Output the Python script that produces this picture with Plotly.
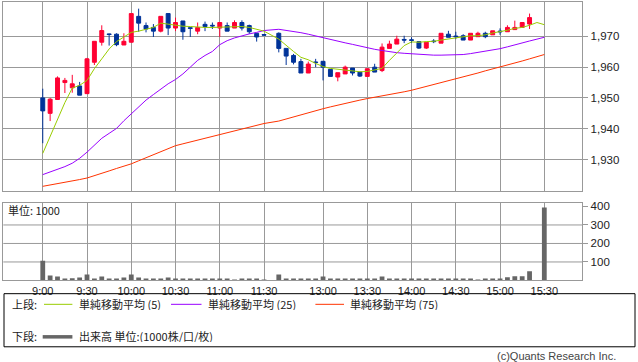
import plotly.graph_objects as go

# ---------------- data ----------------
morning_times = [f"{9 + (i * 5) // 60}:{(i * 5) % 60:02d}" for i in range(31)]          # 9:00 .. 11:30
afternoon_times = [f"{12 + (30 + i * 5) // 60}:{(30 + i * 5) % 60:02d}" for i in range(37)]  # 12:30 .. 15:30

candle_times = morning_times + afternoon_times[:35]   # 9:00-11:30, 12:30-15:20

opens = [1950, 1945, 1949.5, 1955, 1953.3, 1953.9, 1951.4, 1961.6, 1968.1, 1970.8,
         1970.7, 1967.2, 1968.1, 1976.5, 1973.5, 1972.9, 1971.7, 1977.4, 1972.7, 1975,
         1972.8, 1971.7, 1973.9, 1973.6, 1972.7, 1973.5, 1972.7, 1974.5, 1973.5, 1971,
         1970.6,
         1971, 1966.1, 1963.8, 1961.8, 1958.1, 1961.7, 1961.9, 1959.3, 1956.8, 1957.8,
         1959.7, 1958.4, 1957, 1960, 1958.9, 1966.1, 1967.5, 1969, 1968.9, 1968.3,
         1966.2, 1968.5, 1967.8, 1970.7, 1970.1, 1970.2, 1968.8, 1969.9, 1971, 1970.5,
         1971.7, 1971.5, 1972.2, 1972.9, 1974]
highs = [1953, 1950, 1957, 1956.5, 1957.5, 1955.2, 1963, 1968.4, 1973.6, 1970.9,
         1971, 1971, 1977.4, 1979, 1974.5, 1974, 1976.5, 1977.4, 1976.1, 1975,
         1972.9, 1974.5, 1974.8, 1974.5, 1974.5, 1974.5, 1975.2, 1975.2, 1973.8, 1971,
         1970.6,
         1971.3, 1966.1, 1964.3, 1962.7, 1961.8, 1962.7, 1961.9, 1959.3, 1958.2, 1960.5,
         1959.7, 1958.4, 1959.5, 1961.1, 1967.7, 1968.6, 1970.2, 1970.2, 1969.7, 1968.3,
         1968.1, 1969.1, 1971, 1971.8, 1971.5, 1970.7, 1971, 1971.5, 1971.5, 1971.8,
         1972.6, 1973.6, 1975.1, 1974.5, 1977.4]
lows = [1935.3, 1942.5, 1949.5, 1951.6, 1951.7, 1950.9, 1951.4, 1960.7, 1967, 1967,
        1966.8, 1967.2, 1968, 1971.5, 1971.3, 1969.8, 1971.3, 1970.4, 1971.7, 1968.9,
        1969.8, 1970.7, 1971.7, 1972.4, 1969.8, 1971.7, 1972.7, 1971.9, 1970.8, 1968.3,
        1970.4,
        1964.8, 1960.7, 1960.9, 1958.1, 1958.1, 1960, 1955.7, 1957, 1955.4, 1957.8,
        1957.3, 1956.8, 1957, 1958.4, 1958.4, 1966.1, 1967.5, 1967.8, 1967.8, 1965.9,
        1965.9, 1967.8, 1967.8, 1969.7, 1969.1, 1968.8, 1968.8, 1969.9, 1969.4, 1970.5,
        1970.5, 1971.5, 1972.2, 1972.9, 1972.4]
closes = [1945.8, 1949.6, 1956.5, 1955.7, 1954.6, 1950.9, 1962.7, 1968.4, 1971.9, 1970.6,
          1967.3, 1968.4, 1977.4, 1974.3, 1972.4, 1971.7, 1976.5, 1972.7, 1974.5, 1971.5,
          1972.6, 1972.9, 1973.2, 1973.4, 1974.5, 1971.7, 1974.5, 1972.7, 1971.5, 1969.8,
          1970.4,
          1966.1, 1963.6, 1961.6, 1958.1, 1961, 1961.5, 1960, 1957, 1958.2, 1960,
          1958.1, 1957.1, 1959.5, 1958.4, 1966.5, 1967.5, 1969.1, 1968.8, 1968.7, 1966.2,
          1968.1, 1968.3, 1971, 1969.7, 1969.9, 1968.8, 1971, 1971, 1969.9, 1971.8,
          1971.5, 1972.9, 1972.9, 1974.5, 1976.1]

ma_times = morning_times + afternoon_times       # 9:00-11:30, 12:30-15:30
ma5 = [1932, 1937.5, 1943, 1948.5, 1953.2, 1954.1, 1955.7, 1959.5, 1962.7, 1965.9,
       1968.3, 1969.9, 1971.3, 1971.7, 1972.2, 1972.9, 1974.3, 1973.9, 1973.5, 1973.3,
       1973.2, 1973, 1972.9, 1972.9, 1973, 1973.1, 1973.2, 1973.2, 1972.9, 1972.4,
       1971.7,
       1969.1, 1967, 1965.1, 1963.2, 1962.4, 1961.2, 1960.2, 1959.6, 1959.3, 1959.2,
       1958.8, 1958.5, 1958.6, 1959, 1959.6, 1962.2, 1964.6, 1967, 1968.2, 1968.1,
       1968.3, 1968.4, 1968.8, 1969.1, 1969.6, 1969.9, 1970.2, 1970.2, 1970.5, 1971.1,
       1971.5, 1972, 1972.6, 1972.9, 1973.6, 1974.5, 1973.8]
ma25 = [1925.1, 1925.9, 1926.7, 1927.7, 1928.8, 1930.4, 1932.4, 1934.7, 1936.9, 1938.5,
        1940.1, 1942.6, 1944.9, 1947.1, 1949.3, 1951.1, 1952.8, 1954.6, 1956, 1957.8,
        1960, 1962.2, 1963.8, 1965.1, 1967.3, 1968.6, 1969.5, 1970.2, 1970.8, 1971.3,
        1971.9,
        1972.3, 1972.0, 1971.6, 1971.2, 1970.7, 1970.1, 1969.6, 1969.0, 1968.4, 1967.9,
        1967.4, 1966.8, 1966.3, 1965.8, 1965.4, 1965.0, 1964.7, 1964.5, 1964.3, 1964.1,
        1963.9, 1963.9, 1963.9, 1963.9, 1963.9, 1964.1, 1964.4, 1964.8, 1965.1, 1965.5,
        1966, 1966.6, 1967.3, 1967.9, 1968.5, 1969.1, 1969.7]
ma75 = [1921.3, 1921.7, 1922.1, 1922.6, 1923.0, 1923.5, 1924.0, 1924.7, 1925.5, 1926.3,
        1927.1, 1927.8, 1928.6, 1929.6, 1930.6, 1931.6, 1932.6, 1933.5, 1934.5, 1935.1,
        1935.7, 1936.3, 1936.9, 1937.6, 1938.2, 1938.8, 1939.4, 1940.0, 1940.6, 1941.1,
        1941.7,
        1942.5, 1943.2, 1943.9, 1944.6, 1945.3, 1945.9, 1946.5, 1947.1, 1947.7, 1948.2,
        1948.8, 1949.3, 1949.8, 1950.2, 1950.7, 1951.1, 1951.6, 1952.0, 1952.5, 1953.1,
        1953.7, 1954.3, 1954.9, 1955.6, 1956.2, 1956.8, 1957.5, 1958.1, 1958.8, 1959.4,
        1960.0, 1960.7, 1961.4, 1962.0, 1962.7, 1963.4, 1964.1]

volume_times = candle_times + ["15:30"]
volumes = [107, 27, 21, 11, 12, 16, 32, 5, 21, 11, 7, 16, 32, 16, 11, 7, 7, 16, 11, 7,
           5, 5, 11, 7, 5, 5, 2, 5, 5, 5, 2,
           32, 11, 7, 11, 11, 5, 21, 5, 5, 5, 5, 5, 5, 5, 21, 5, 5, 5, 5, 5,
           5, 5, 5, 5, 5, 5, 5, 2, 11, 7, 11, 18, 23, 23, 50,
           395]

time_ticks = ["9:00", "9:30", "10:00", "10:30", "11:00", "11:30",
              "13:00", "13:30", "14:00", "14:30", "15:00", "15:30"]
price_ticks = [1930, 1940, 1950, 1960, 1970]
price_tick_text = ["1,930", "1,940", "1,950", "1,960", "1,970"]
vol_ticks = [100, 200, 300, 400]


def slot(t):
    h, m = map(int, t.split(":"))
    mins = h * 60 + m
    if mins <= 11 * 60 + 30:
        return (mins - 540) / 5
    return 32 + (mins - 750) / 5


RED = "#ff0033"
BLUE = "#003399"
GRID = "#999999"
W, H = 638, 362


def px_x(v):
    return v / W


def px_y(v):
    return 1 - v / H


fig = go.Figure()
fig.add_trace(go.Candlestick(
    x=[slot(t) for t in candle_times], open=opens, high=highs, low=lows, close=closes,
    increasing=dict(line=dict(color=RED, width=1), fillcolor=RED),
    decreasing=dict(line=dict(color=BLUE, width=1), fillcolor=BLUE),
    whiskerwidth=0, showlegend=False, hoverinfo="skip", xaxis="x", yaxis="y"))
for vals, col in [(ma75, "#ff3300"), (ma25, "#9900ff"), (ma5, "#99cc00")]:
    fig.add_trace(go.Scatter(x=[slot(t) for t in ma_times], y=vals, mode="lines",
                             line=dict(color=col, width=1), showlegend=False,
                             hoverinfo="skip", xaxis="x", yaxis="y"))
fig.add_trace(go.Bar(x=[slot(t) for t in volume_times], y=volumes, width=0.65,
                     marker=dict(color="#666666", line=dict(width=0)),
                     showlegend=False, hoverinfo="skip", xaxis="x2", yaxis="y2"))

xr = [-5.35, 73.15]
xdom = [px_x(3.3), px_x(582.3)]
tickv = [slot(t) for t in time_ticks]
num_font = dict(family="Liberation Sans, Arial, sans-serif", size=11.5, color="#222")
jp = "Noto Sans CJK JP, sans-serif"

fig.update_layout(
    width=W, height=H, autosize=False, margin=dict(l=0, r=0, t=0, b=0),
    paper_bgcolor="white", plot_bgcolor="white", boxgap=0.24,
    xaxis=dict(domain=xdom, range=xr, anchor="y", tickvals=tickv, showticklabels=False,
               showgrid=True, gridcolor=GRID, gridwidth=1, zeroline=False,
               showline=True, mirror=True, linecolor=GRID, linewidth=1,
               rangeslider=dict(visible=False), ticks=""),
    yaxis=dict(domain=[px_y(190.3), px_y(0.5)], range=[1919.7, 1981], anchor="x",
               side="right", tickvals=price_ticks, ticktext=price_tick_text,
               showgrid=True, gridcolor=GRID, gridwidth=1, zeroline=False,
               showline=True, mirror=True, linecolor=GRID, linewidth=1,
               ticks="outside", ticklen=5, tickcolor=GRID, tickfont=num_font),
    xaxis2=dict(domain=xdom, range=xr, anchor="y2", tickvals=tickv, ticktext=time_ticks,
                showgrid=True, gridcolor=GRID, gridwidth=1, zeroline=False,
                showline=True, mirror=True, linecolor=GRID, linewidth=1, ticks="",
                tickfont=dict(family="Liberation Sans, Arial, sans-serif", size=11, color="#222")),
    yaxis2=dict(domain=[px_y(280), px_y(201.7)], range=[0, 421], anchor="x2",
                side="right", tickvals=vol_ticks, showgrid=False, zeroline=False,
                showline=True, mirror=True, linecolor=GRID, linewidth=1,
                ticks="outside", ticklen=5, tickcolor=GRID, tickfont=num_font),
)

shapes = []
# horizontal grid lines of the volume panel (no line at 400)
for v in vol_ticks[:3]:
    shapes.append(dict(type="line", xref="paper", yref="y2", x0=xdom[0], x1=xdom[1],
                       y0=v, y1=v, line=dict(color=GRID, width=1), layer="below"))
# legend box
shapes.append(dict(type="rect", xref="paper", yref="paper", x0=px_x(4), x1=px_x(635),
                   y0=px_y(346.7), y1=px_y(293.3), line=dict(color="#000", width=1)))
for x0, x1, yy, col, wd in [(44, 72.4, 304, "#99cc00", 1), (171, 201.5, 304, "#9900ff", 1),
                            (315.4, 344, 304, "#ff3300", 1), (42.7, 72.4, 336.7, "#666666", 3.5)]:
    shapes.append(dict(type="line", xref="paper", yref="paper", x0=px_x(x0), x1=px_x(x1),
                       y0=px_y(yy), y1=px_y(yy), line=dict(color=col, width=wd)))
fig.update_layout(shapes=shapes)

ann = []


def txt(s, x, y, anchor="left", size=11, color="#222", family=jp):
    ann.append(dict(text=s, xref="paper", yref="paper", x=px_x(x), y=px_y(y),
                    xanchor=anchor, yanchor="middle", showarrow=False, height=12,
                    valign="middle", borderpad=0,
                    font=dict(family=family, size=size, color=color)))


txt("単位: 1000", 7, 209)
txt("上段:", 10.5, 303.5)
txt("単純移動平均 (5)", 78, 303.5)
txt("単純移動平均 (25)", 206.5, 303.5)
txt("単純移動平均 (75)", 349, 303.5)
txt("下段:", 10.5, 336)
txt("出来高 単位:(1000株/口/枚)", 78, 336)
txt("(c)Quants Research Inc.", 617, 356, anchor="right", color="#444",
    family="Liberation Sans, Arial, sans-serif")
fig.update_layout(annotations=ann)

fig.write_html("out.html", config={"displayModeBar": False},
               post_script="document.body.style.margin='0';document.body.style.overflow='hidden';")
